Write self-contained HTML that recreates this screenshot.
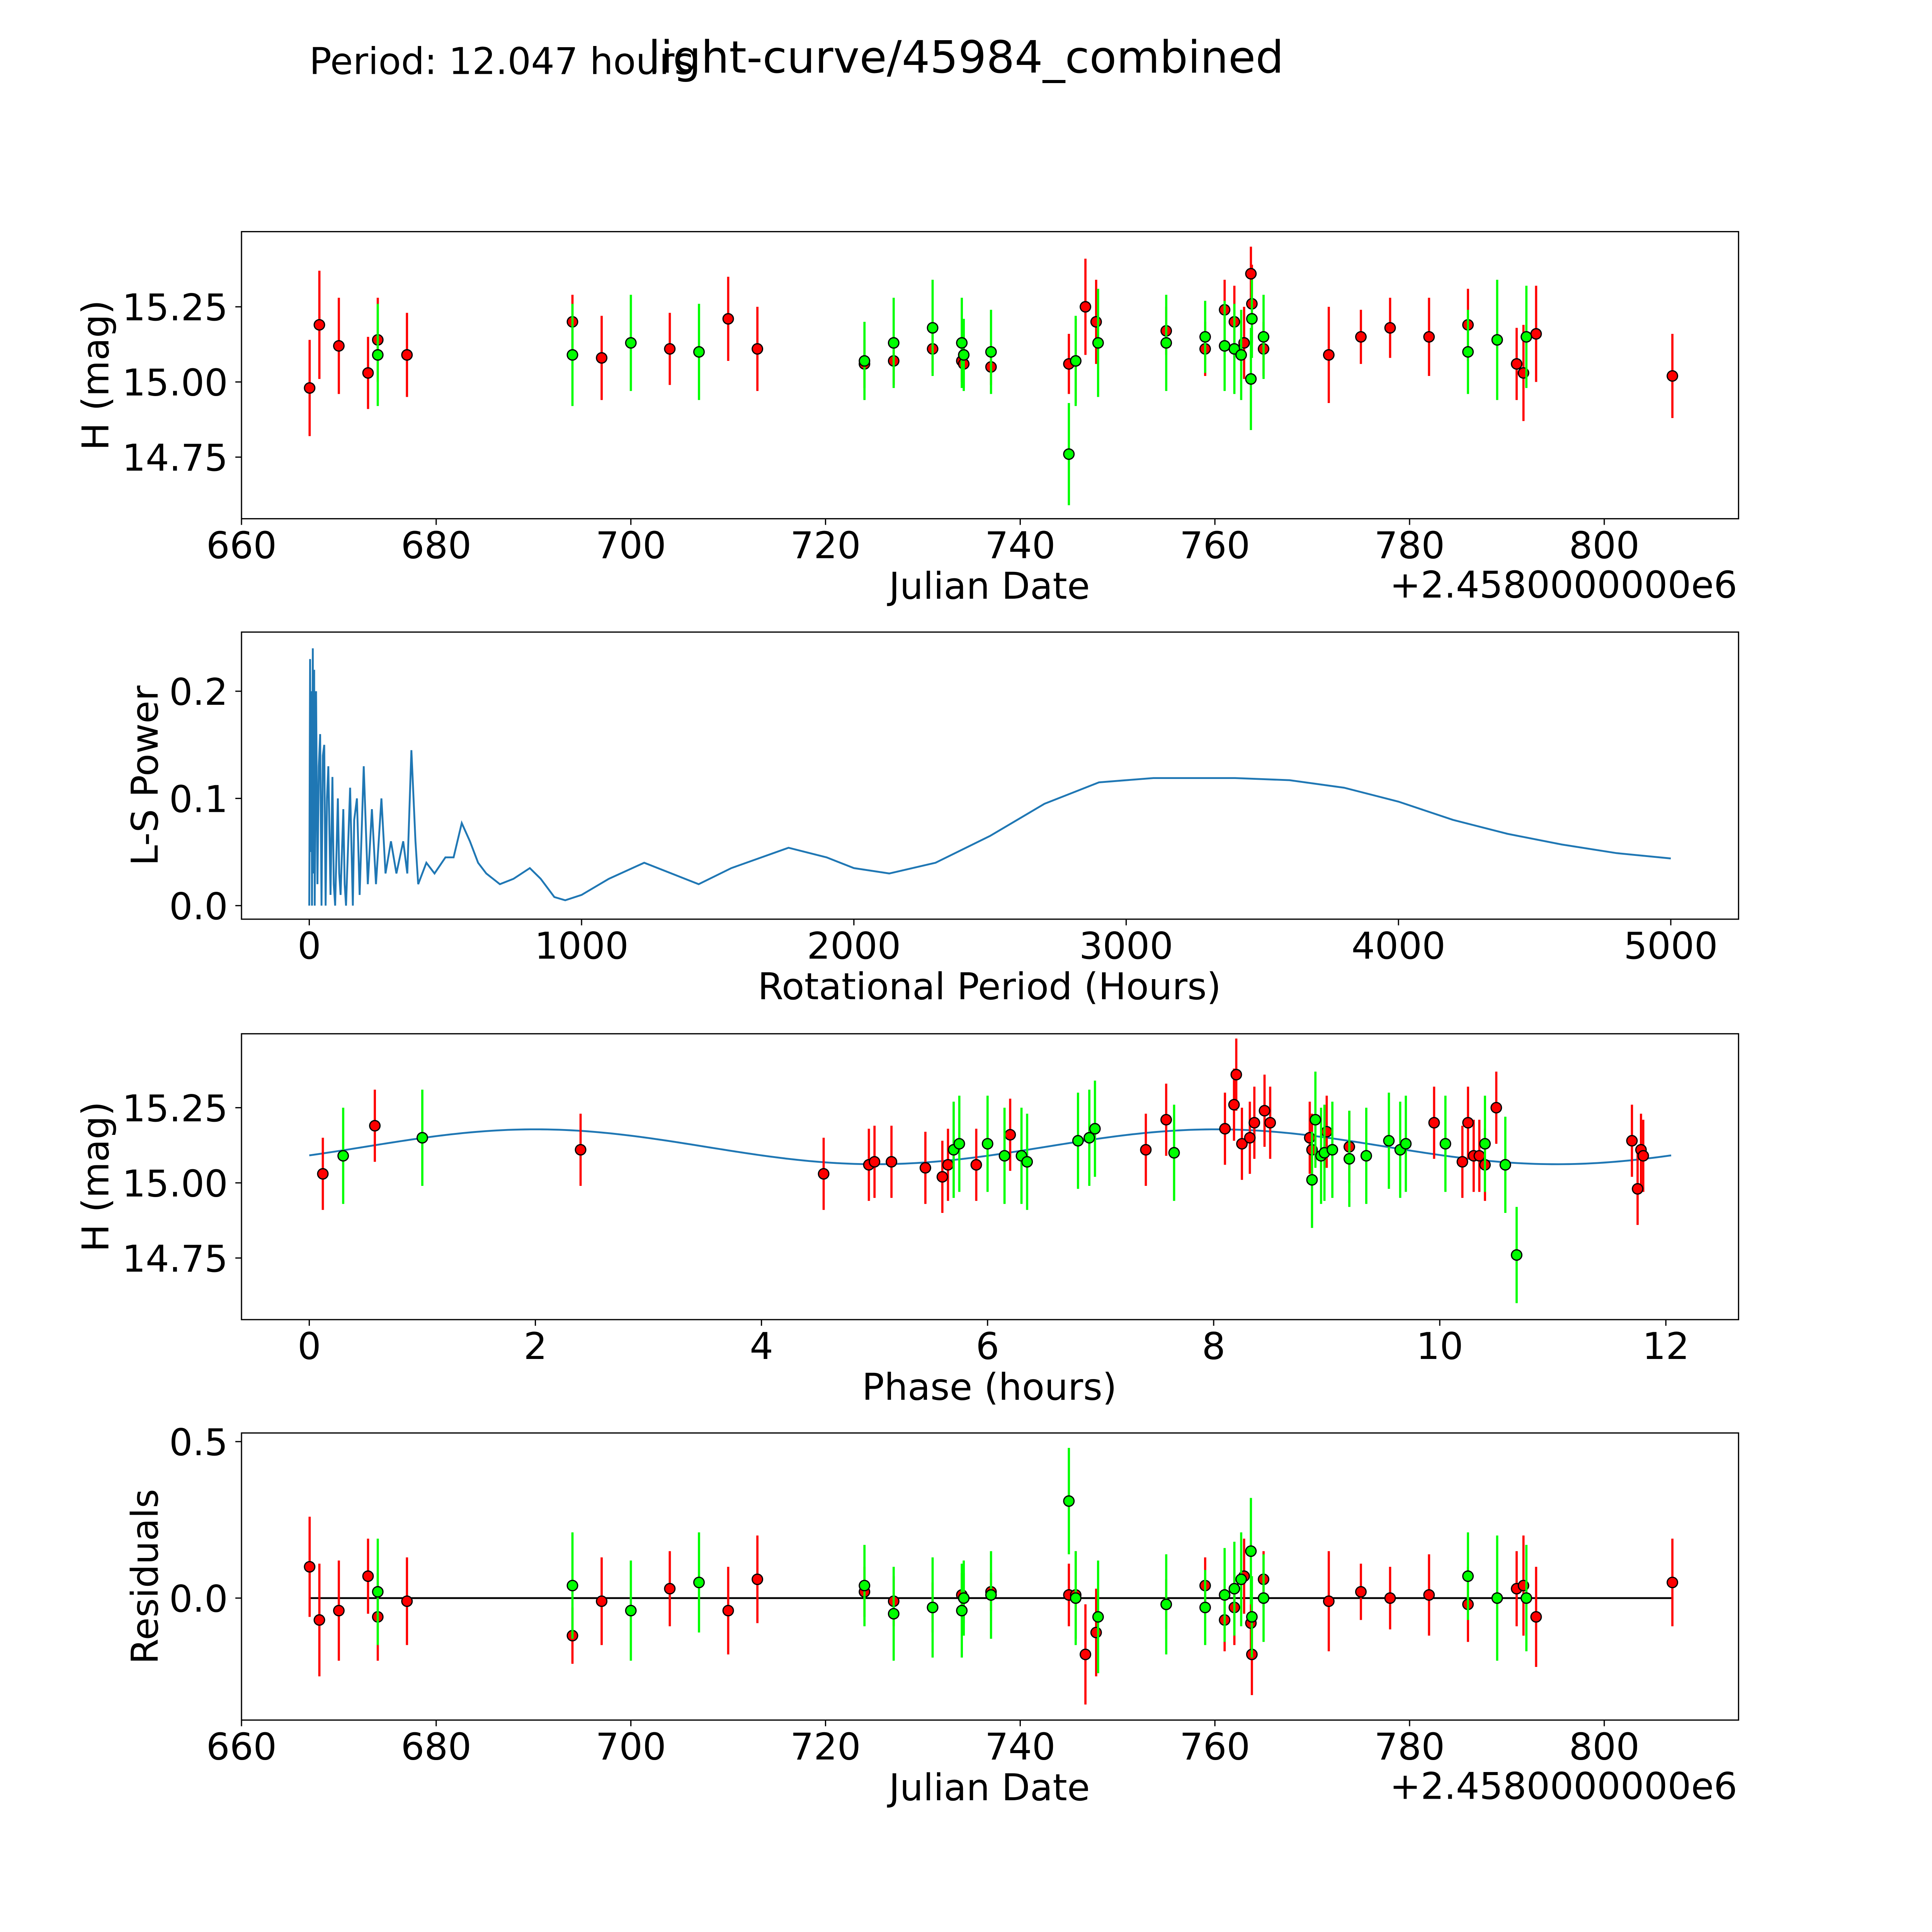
<!DOCTYPE html>
<html><head><meta charset="utf-8"><style>html,body{margin:0;padding:0;background:#fff;width:100vw;height:100vh;overflow:hidden}svg{display:block;position:fixed;left:0;top:0;width:100vw;height:100vh}text{font-family:"DejaVu Sans","Liberation Sans",sans-serif;fill:#000}</style></head>
<body>
<svg id="fig" xmlns="http://www.w3.org/2000/svg" viewBox="0 0 1568 1568" preserveAspectRatio="none">
<rect width="1568" height="1568" fill="#fff"/>
<text x="784" y="59" font-size="36" text-anchor="middle">light-curve/45984_combined</text>
<text x="251" y="60" font-size="30">Period: 12.047 hours</text>
</svg>
<script>
// ---- data ----
const redDates=[667,668,670,673,674,677,694,697,704,710,713,724,727,731,734,734.2,737,745,745.7,746.7,747.8,755,759,761,762,763,763.7,763.8,765,771.7,775,778,782,786,791,791.7,793,807];
const redMags=[14.98,15.19,15.12,15.03,15.14,15.09,15.20,15.08,15.11,15.21,15.11,15.06,15.07,15.11,15.07,15.06,15.05,15.06,15.07,15.25,15.20,15.17,15.11,15.24,15.20,15.13,15.36,15.26,15.11,15.09,15.15,15.18,15.15,15.19,15.06,15.03,15.16,15.02];
const redErrs=[0.16,0.18,0.16,0.12,0.14,0.14,0.09,0.14,0.12,0.14,0.14,0.08,0.08,0.08,0.07,0.08,0.06,0.10,0.14,0.16,0.14,0.08,0.09,0.10,0.12,0.12,0.09,0.13,0.09,0.16,0.09,0.10,0.13,0.12,0.12,0.16,0.16,0.14];
const greenDates=[674,694,700,707,724,727,731,734,734.2,737,745,745.7,748,755,759,761,762,762.7,763.7,763.8,765,786,789,792];
const greenMags=[15.09,15.09,15.13,15.10,15.07,15.13,15.18,15.13,15.09,15.10,14.76,15.07,15.13,15.13,15.15,15.12,15.11,15.09,15.01,15.21,15.15,15.10,15.14,15.15];
const greenErrs=[0.17,0.17,0.16,0.16,0.13,0.15,0.16,0.15,0.12,0.14,0.17,0.15,0.18,0.16,0.12,0.15,0.15,0.15,0.17,0.13,0.14,0.14,0.20,0.17];
const lsPeriods=[0,3,5,7,10,13,15,18,20,25,30,35,40,45,50,55,60,65,70,78,85,90,95,105,110,115,125,130,135,150,160,165,175,185,200,215,230,245,265,280,300,320,345,360,375,390,400,430,460,500,530,560,590,620,650,700,750,810,850,900,940,1000,1100,1230,1330,1430,1550,1760,1900,2000,2130,2300,2500,2700,2900,3100,3400,3600,3800,4000,4200,4400,4600,4800,5000];
const lsPower=[0,0.23,0.05,0.2,0,0.24,0.03,0.22,0,0.2,0.02,0.13,0.16,0,0.14,0.15,0,0.1,0.13,0.01,0.12,0.02,0,0.1,0.03,0.01,0.09,0.02,0,0.11,0,0.08,0.1,0.01,0.13,0.02,0.09,0.02,0.1,0.03,0.06,0.03,0.06,0.03,0.145,0.06,0.02,0.04,0.03,0.045,0.045,0.077,0.06,0.04,0.03,0.02,0.025,0.035,0.025,0.008,0.005,0.01,0.025,0.04,0.03,0.02,0.035,0.054,0.045,0.035,0.03,0.04,0.065,0.095,0.115,0.119,0.119,0.117,0.11,0.097,0.08,0.067,0.057,0.049,0.044];
const redPhase=[0.12,0.58,2.4,4.55,4.95,5.0,5.15,5.45,5.6,5.65,5.9,6.2,7.4,7.58,8.1,8.18,8.2,8.25,8.32,8.36,8.45,8.5,8.85,8.87,9.0,9.2,9.95,10.2,10.25,10.3,10.35,10.4,10.5,11.7,11.75,11.78,11.8];
const redPhaseMags=[15.03,15.19,15.11,15.03,15.06,15.07,15.07,15.05,15.02,15.06,15.06,15.16,15.11,15.21,15.18,15.26,15.36,15.13,15.15,15.20,15.24,15.20,15.15,15.11,15.17,15.12,15.20,15.07,15.20,15.09,15.09,15.06,15.25,15.14,14.98,15.11,15.09];
const greenPhase=[0.3,1.0,5.7,5.75,6.0,6.15,6.3,6.35,6.8,6.9,6.95,7.65,8.87,8.9,8.95,8.98,9.05,9.2,9.35,9.55,9.65,9.7,10.05,10.4,10.58,10.68];
const greenPhaseMags=[15.09,15.15,15.11,15.13,15.13,15.09,15.09,15.07,15.14,15.15,15.18,15.10,15.01,15.21,15.09,15.10,15.11,15.08,15.09,15.14,15.11,15.13,15.13,15.13,15.06,14.76];
const fitCoeffs=[15.12,0.058,2.0,0.0]; // mean, amplitude, peak phase, 1st harmonic
const period=12.047;
const redResid=[0.10,-0.07,-0.04,0.07,-0.06,-0.01,-0.12,-0.01,0.03,-0.04,0.06,0.02,-0.01,-0.03,0.01,0.0,0.02,0.01,0.01,-0.18,-0.11,-0.02,0.04,-0.07,-0.03,0.07,-0.08,-0.18,0.06,-0.01,0.02,0.0,0.01,-0.02,0.03,0.04,-0.06,0.05];
const greenResid=[0.02,0.04,-0.04,0.05,0.04,-0.05,-0.03,-0.04,0.0,0.01,0.31,0.0,-0.06,-0.02,-0.03,0.01,0.03,0.06,0.15,-0.06,0.0,0.07,0.0,0.0];
const jdTicks=[660,680,700,720,740,760,780,800];
const lsXTicks=[0,1000,2000,3000,4000,5000];
const lsYTicks=[0.0,0.1,0.2];
const magTicks=[14.75,15.00,15.25];
const phaseTicks=[0,2,4,6,8,10,12];
const residTicks=[0.0,0.5];

const NS='http://www.w3.org/2000/svg';
const svg=document.getElementById('fig');
function el(t,a,p){const e=document.createElementNS(NS,t);for(const k in a)e.setAttribute(k,a[k]);(p||svg).appendChild(e);return e;}
function lin(d0,d1,r0,r1){return v=>r0+(v-d0)*(r1-r0)/(d1-d0);}
const L=196,R=1411;
function panel(name,top,bot,xs,ys,xt,yt,xfmt,yfmt,xlabel,ylabel,ylabX,offset){
  const g=el('g',{});
  
  
  for(const t of xt){const x=xs(t);el('line',{x1:x,x2:x,y1:bot,y2:bot+5,stroke:'#000','stroke-width':1},g);
    const tx=el('text',{x:x,y:bot+32,'font-size':'30','text-anchor':'middle'},g);tx.textContent=xfmt(t);
    }
  for(const t of yt){const y=ys(t);el('line',{x1:L-5,x2:L,y1:y,y2:y,stroke:'#000','stroke-width':1},g);
    const tx=el('text',{x:L-11,y:y+11,'font-size':'30','text-anchor':'end'},g);tx.textContent=yfmt(t);
    }
  const xl=el('text',{x:803,y:bot+65,'font-size':'30','text-anchor':'middle'},g);xl.textContent=xlabel;
  
  const yc=(top+bot)/2;
  const yl=el('text',{x:ylabX,y:yc,'font-size':'30','text-anchor':'middle',transform:`rotate(-90 ${ylabX} ${yc})`},g);yl.textContent=ylabel;
  
  if(offset){const o=el('text',{x:R-1,y:bot+64,'font-size':'30','text-anchor':'end'},g);o.textContent=offset;
    }
  return g;
}
function frame(g,top,bot){const f=el('rect',{x:L,y:top,width:R-L,height:bot-top,fill:'none',stroke:'#000','stroke-width':1},g);
  }
function points(g,xs,ys,xv,yv,ev,col){
  for(let i=0;i<xv.length;i++){const x=xs(xv[i]);
    const l=el('line',{x1:x,x2:x,y1:ys(yv[i]-ev[i]),y2:ys(yv[i]+ev[i]),stroke:col,'stroke-width':1.8},g);
    }
  for(let i=0;i<xv.length;i++){
    const c=el('circle',{cx:xs(xv[i]),cy:ys(yv[i]),r:4.2,fill:col,stroke:'#000','stroke-width':1},g);
    }
}
const jdFmt=v=>String(v), magFmt=v=>v.toFixed(2), f1=v=>v.toFixed(1);
{const top=188,bot=421;const xs=lin(660,800,196,1302),ys=lin(15,15.25,310,249);
 const g=panel('light-curve-panel',top,bot,xs,ys,jdTicks,magTicks,jdFmt,magFmt,'Julian Date','H (mag)',88,'+2.4580000000e6');
 points(g,xs,ys,redDates,redMags,redErrs,'#ff0000');points(g,xs,ys,greenDates,greenMags,greenErrs,'#00ff00');frame(g,top,bot);}
{const top=513,bot=746;const xs=lin(0,5000,251,1356),ys=lin(0,0.2,735,561);
 const g=panel('periodogram-panel',top,bot,xs,ys,lsXTicks,lsYTicks,jdFmt,f1,'Rotational Period (Hours)','L-S Power',128);
 const d=lsPeriods.map((p,i)=>(i?'L':'M')+xs(p).toFixed(2)+','+ys(lsPower[i]).toFixed(2)).join('');
 const p=el('path',{d:d,fill:'none',stroke:'#1f77b4','stroke-width':1.5},g);
 frame(g,top,bot);}
{const top=839,bot=1071;const xs=lin(0,12,251,1352),ys=lin(15,15.25,960,899);
 const g=panel('phase-panel',top,bot,xs,ys,phaseTicks,magTicks,jdFmt,magFmt,'Phase (hours)','H (mag)',88);
 const fit=t=>fitCoeffs[0]+fitCoeffs[1]*Math.cos(4*Math.PI*(t-fitCoeffs[2])/period)+fitCoeffs[3]*Math.cos(2*Math.PI*(t-fitCoeffs[2])/period);
 let d='';for(let i=0;i<=240;i++){const t=period*i/240;d+=(i?'L':'M')+xs(t).toFixed(2)+','+ys(fit(t)).toFixed(2);}
 const p=el('path',{d:d,fill:'none',stroke:'#1f77b4','stroke-width':1.5},g);
 
 const rE=redPhase.map(()=>0.12),gE=greenPhase.map(()=>0.16);
 points(g,xs,ys,redPhase,redPhaseMags,rE,'#ff0000');points(g,xs,ys,greenPhase,greenPhaseMags,gE,'#00ff00');frame(g,top,bot);}
{const top=1163,bot=1396;const xs=lin(660,800,196,1302),ys=lin(0,0.5,1297,1170);
 const g=panel('residuals-panel',top,bot,xs,ys,jdTicks,residTicks,jdFmt,f1,'Julian Date','Residuals',128,'+2.4580000000e6');
 const z=el('line',{x1:xs(667),x2:xs(807),y1:ys(0),y2:ys(0),stroke:'#000','stroke-width':1.5},g);
 
 points(g,xs,ys,redDates,redResid,redErrs,'#ff0000');points(g,xs,ys,greenDates,greenResid,greenErrs,'#00ff00');frame(g,top,bot);}
</script>
</body></html>
